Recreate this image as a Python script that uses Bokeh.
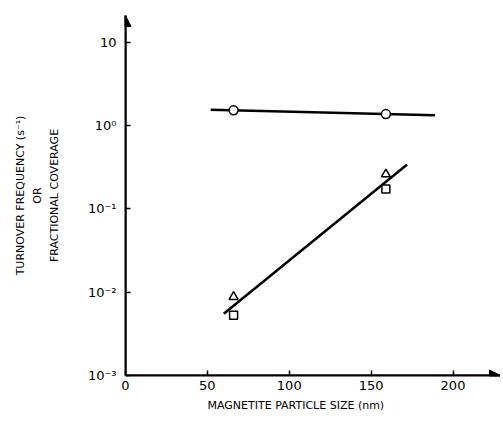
from bokeh.plotting import figure
from bokeh.models import Range1d, FixedTicker, Arrow, NormalHead, Title
from bokeh.embed import file_html
from bokeh.resources import INLINE

# ---- data ----
size_nm = [66, 159]
turnover_circle = [1.52, 1.37]
coverage_triangle = [0.0088, 0.26]
coverage_square = [0.0053, 0.173]

fit_top_x = [52, 189]
fit_top_y = [1.55, 1.33]
fit_bottom_x = [60, 172]
fit_bottom_y = [0.0055, 0.34]

x_ticks = [0, 50, 100, 150, 200]
y_ticks = [0.001, 0.01, 0.1, 1.0, 10.0]
y_tick_labels = ["10⁻³", "10⁻²", "10⁻¹", "10⁰", "10"]

X_MIN, X_MAX = 0, 229
Y_MIN, Y_MAX = 0.001, 20.9

FONT = "DejaVu Sans"

p = figure(width=500, height=416, y_axis_type="log",
           x_range=Range1d(X_MIN, X_MAX), y_range=Range1d(Y_MIN, Y_MAX),
           output_backend="svg", toolbar_location=None,
           min_border_left=125, min_border_right=0,
           min_border_top=15, min_border_bottom=41)
p.outline_line_color = None
p.xgrid.visible = False
p.ygrid.visible = False
p.background_fill_color = "white"

# axes
for ax in (p.xaxis[0], p.yaxis[0]):
    ax.axis_line_width = 2
    ax.axis_line_color = "black"
    ax.major_tick_in = 5
    ax.major_tick_out = 0
    ax.major_tick_line_width = 1.5
    ax.minor_tick_in = 0
    ax.minor_tick_out = 0
    ax.major_label_text_font = FONT
    ax.major_label_text_font_size = "13px"
    ax.major_label_text_color = "black"
    ax.axis_label_text_font = FONT
    ax.axis_label_text_font_style = "normal"
    ax.axis_label_text_font_size = "11px"
    ax.axis_label_text_color = "black"
    ax.axis_label_text_line_height = 1.3

p.xaxis.ticker = FixedTicker(ticks=x_ticks)
p.yaxis.ticker = FixedTicker(ticks=y_ticks)
p.yaxis.major_label_overrides = dict(zip(y_ticks, y_tick_labels))
p.xaxis.major_label_standoff = 5
p.yaxis.major_label_standoff = 9
p.yaxis.axis_label = "TURNOVER FREQUENCY (s⁻¹)\nOR\nFRACTIONAL COVERAGE"
p.yaxis.axis_label_standoff = 24

# x axis title, placed left-of-centre as in the reference
p.add_layout(Title(text="MAGNETITE PARTICLE SIZE (nm)", align="left", offset=82,
                   text_font=FONT, text_font_size="11px", text_font_style="normal",
                   text_color="black", standoff=8), "below")

# axis arrows
p.add_layout(Arrow(end=NormalHead(size=11, fill_color="black", line_color="black"),
                   x_start=X_MIN, y_start=Y_MIN, x_end=X_MIN, y_end=Y_MAX,
                   line_width=2, line_color="black"))
p.add_layout(Arrow(end=NormalHead(size=11, fill_color="black", line_color="black"),
                   x_start=X_MIN, y_start=Y_MIN, x_end=X_MAX, y_end=Y_MIN,
                   line_width=2, line_color="black"))

# fitted lines
p.line(fit_top_x, fit_top_y, line_color="black", line_width=2.5)
p.line(fit_bottom_x, fit_bottom_y, line_color="black", line_width=2.5)

# points
p.scatter(size_nm, turnover_circle, marker="circle", size=9,
          fill_color="white", line_color="black", line_width=1.5)
p.scatter(size_nm, coverage_triangle, marker="triangle", size=9,
          fill_color="white", line_color="black", line_width=1.5)
p.scatter(size_nm, coverage_square, marker="square", size=8,
          fill_color="white", line_color="black", line_width=1.5)

open("out.html", "w").write(file_html(p, INLINE))
